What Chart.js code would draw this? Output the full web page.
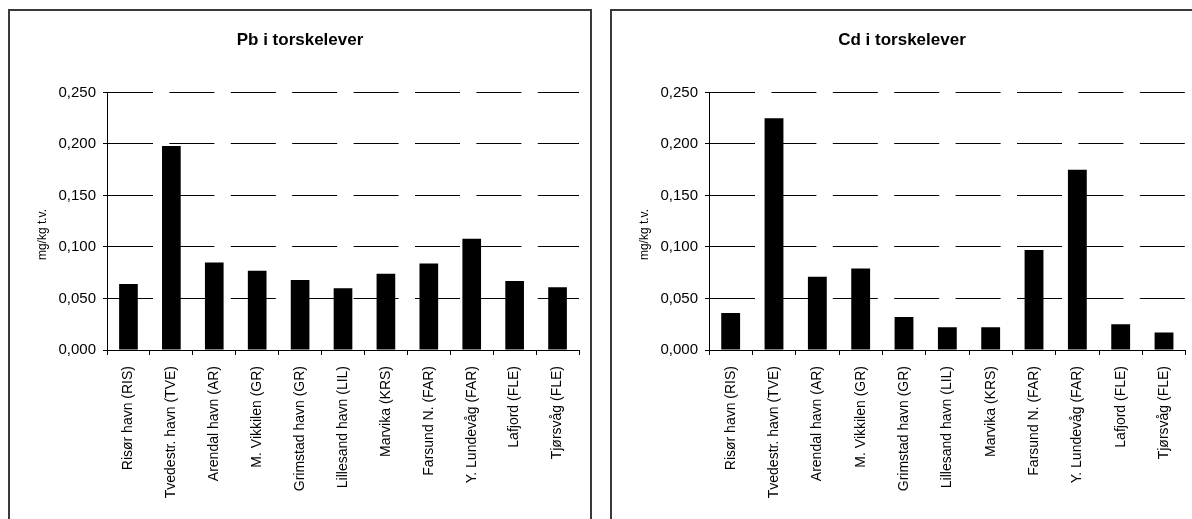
<!DOCTYPE html>
<html>
<head>
<meta charset="utf-8">
<script src="https://cdn.jsdelivr.net/npm/chart.js@4/dist/chart.umd.min.js"></script>
<style>
  html, body { margin: 0; padding: 0; background: #fff; overflow: hidden; }
  body { width: 1192px; height: 519px; position: relative; }
  .box { position: absolute; top: 9px; height: 530px; border: 2px solid #3a3a3a; box-sizing: border-box; }
  #boxPb { left: 8px; width: 584px; }
  #boxCd { left: 610px; width: 600px; }
  canvas { position: absolute; left: 0; top: 0; }
</style>
</head>
<body>
<div class="box" id="boxPb"><canvas id="pbChart" width="580" height="508"></canvas></div>
<div class="box" id="boxCd"><canvas id="cdChart" width="580" height="508"></canvas></div>
<script>
  const stations = [
    'Risør havn (RIS)', 'Tvedestr. havn (TVE)', 'Arendal havn (AR)', 'M. Vikkilen (GR)',
    'Grimstad havn (GR)', 'Lillesand havn (LIL)', 'Marvika (KRS)', 'Farsund N. (FAR)',
    'Y. Lundevåg (FAR)', 'Lafjord (FLE)', 'Tjørsvåg (FLE)'
  ];
  const pbValues = [0.064, 0.198, 0.085, 0.077, 0.068, 0.060, 0.074, 0.084, 0.108, 0.067, 0.061];
  const cdValues = [0.036, 0.225, 0.071, 0.079, 0.032, 0.022, 0.022, 0.097, 0.175, 0.025, 0.017];
  const yTicks = [0, 0.05, 0.1, 0.15, 0.2, 0.25];
  // trailing spaces push the rotated title a bit down, as in the original
  const yLabel = 'mg/kg t.v.        ';

  const fontFamily = '"Liberation Sans", Arial, sans-serif';

  function makeChart(canvasId, title, values, rightGap) {
    const ctx = document.getElementById(canvasId).getContext('2d');
    return new Chart(ctx, {
      type: 'bar',
      data: {
        labels: stations,
        datasets: [{
          data: values,
          backgroundColor: '#000',
          borderWidth: 0,
          categoryPercentage: 1,
          barPercentage: 0.435
        }]
      },
      options: {
        responsive: false,
        animation: false,
        plugins: {
          legend: { display: false },
          tooltip: { enabled: false },
          title: {
            display: true,
            text: title,
            color: '#000',
            font: { family: fontFamily, size: 17, weight: 'bold', lineHeight: 1.2 },
            padding: { top: 19, bottom: 42 }
          }
        },
        scales: {
          x: {
            offset: true,
            grid: {
              drawOnChartArea: false,
              drawTicks: true,
              tickLength: 5,
              tickColor: '#000',
              offset: true
            },
            border: { display: true, color: '#000', width: 1 },
            ticks: {
              autoSkip: false,
              minRotation: 90,
              maxRotation: 90,
              padding: 11,
              color: '#000',
              font: { family: fontFamily, size: 14 }
            },
            afterFit: function(scale) { scale.height = 169; }
          },
          y: {
            min: 0,
            max: 0.25,
            afterBuildTicks: function(scale) {
              scale.ticks = yTicks.map(v => ({ value: v }));
            },
            grid: {
              color: '#000',
              lineWidth: 1,
              drawTicks: true,
              tickLength: 4,
              tickColor: '#000'
            },
            border: { display: true, color: '#000', width: 1, dash: [45, 16.4] },
            ticks: {
              padding: 7,
              color: '#000',
              font: { family: fontFamily, size: 15 },
              callback: function(value) { return value.toFixed(3).replace('.', ','); }
            },
            title: {
              display: true,
              text: yLabel,
              color: '#000',
              font: { family: fontFamily, size: 12, lineHeight: 1.2 },
              padding: { top: 25, bottom: 0 }
            },
            afterFit: function(scale) { scale.width = 97; }
          },
          // empty right axis, only keeps a gap between plot and frame
          gap: {
            position: 'right',
            min: 0,
            max: 0.25,
            grid: { display: false },
            border: { display: false },
            ticks: { display: false },
            afterFit: function(scale) { scale.width = rightGap; }
          }
        }
      }
    });
  }

  makeChart('pbChart', 'Pb i torskelever', pbValues, 11);
  makeChart('cdChart', 'Cd i torskelever', cdValues, 4);
</script>
</body>
</html>
